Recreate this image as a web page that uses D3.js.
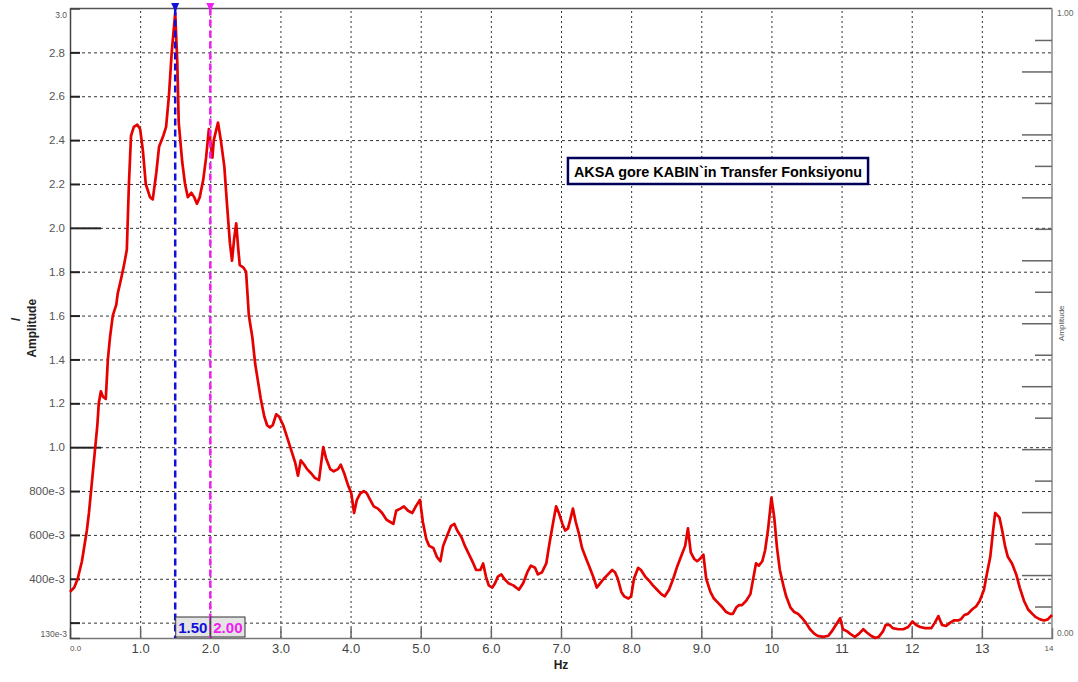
<!DOCTYPE html>
<html>
<head>
<meta charset="utf-8">
<script src="https://cdn.jsdelivr.net/npm/d3@7"></script>
<style>
  html, body { margin: 0; padding: 0; background: #fff; }
  svg { display: block; font-family: Arial, "Liberation Sans", sans-serif; }
</style>
</head>
<body>
<svg id="chart" width="1078" height="682"></svg>
<script>
// Transfer function spectrum (Hz, amplitude)
const freqHz = [
  0.00, 0.06, 0.11, 0.17, 0.21, 0.24, 0.27, 0.30, 0.33, 0.36, 0.39, 0.41, 0.44, 0.47, 0.51, 0.54, 0.57, 0.61, 0.66, 0.68,
  0.73, 0.77, 0.81, 0.84, 0.87, 0.91, 0.96, 1.00, 1.04, 1.08, 1.14, 1.18, 1.23, 1.27, 1.33, 1.37, 1.41, 1.45, 1.50, 1.53,
  1.55, 1.60, 1.64, 1.68, 1.73, 1.77, 1.81, 1.85, 1.90, 1.94, 1.98, 2.03, 2.05, 2.11, 2.15, 2.20, 2.24, 2.28, 2.31, 2.34,
  2.37, 2.40, 2.42, 2.47, 2.51, 2.55, 2.60, 2.64, 2.68, 2.72, 2.77, 2.81, 2.85, 2.89, 2.94, 2.98, 3.04, 3.09, 3.15, 3.21,
  3.25, 3.29, 3.34, 3.38, 3.44, 3.49, 3.55, 3.61, 3.65, 3.71, 3.76, 3.82, 3.86, 3.91, 3.96, 4.01, 4.05, 4.09, 4.14, 4.19,
  4.23, 4.28, 4.33, 4.39, 4.45, 4.51, 4.56, 4.61, 4.65, 4.71, 4.76, 4.82, 4.88, 4.93, 4.99, 5.03, 5.08, 5.12, 5.18, 5.23,
  5.28, 5.32, 5.38, 5.43, 5.48, 5.52, 5.58, 5.63, 5.69, 5.75, 5.79, 5.85, 5.89, 5.93, 5.97, 6.02, 6.06, 6.10, 6.15, 6.19,
  6.25, 6.32, 6.40, 6.46, 6.52, 6.57, 6.63, 6.67, 6.73, 6.79, 6.84, 6.89, 6.93, 6.97, 7.02, 7.06, 7.10, 7.14, 7.17, 7.21,
  7.26, 7.30, 7.36, 7.41, 7.47, 7.51, 7.56, 7.61, 7.67, 7.73, 7.77, 7.81, 7.86, 7.90, 7.96, 8.00, 8.04, 8.10, 8.14, 8.20,
  8.26, 8.31, 8.37, 8.43, 8.48, 8.54, 8.60, 8.65, 8.71, 8.77, 8.81, 8.85, 8.90, 8.94, 8.98, 9.03, 9.07, 9.13, 9.18, 9.24,
  9.30, 9.35, 9.41, 9.45, 9.50, 9.54, 9.58, 9.64, 9.70, 9.74, 9.78, 9.82, 9.87, 9.91, 9.95, 10.00, 10.04, 10.08, 10.12, 10.17,
  10.21, 10.27, 10.32, 10.38, 10.44, 10.49, 10.55, 10.61, 10.66, 10.74, 10.81, 10.86, 10.92, 10.98, 11.02, 11.08, 11.14, 11.19, 11.25, 11.31,
  11.36, 11.42, 11.48, 11.53, 11.59, 11.63, 11.68, 11.73, 11.81, 11.88, 11.95, 12.01, 12.06, 12.12, 12.19, 12.28, 12.33, 12.38, 12.43, 12.49,
  12.55, 12.60, 12.66, 12.70, 12.75, 12.80, 12.86, 12.92, 12.97, 13.03, 13.07, 13.12, 13.16, 13.19, 13.25, 13.29, 13.33, 13.37, 13.43, 13.49,
  13.54, 13.60, 13.66, 13.72, 13.77, 13.83, 13.89, 13.94, 14.00
];
const amplitude = [
  0.34, 0.36, 0.40, 0.48, 0.56, 0.62, 0.70, 0.80, 0.90, 1.00, 1.10, 1.20, 1.255, 1.23, 1.22, 1.40, 1.50, 1.60, 1.65, 1.70,
  1.77, 1.83, 1.90, 2.20, 2.42, 2.46, 2.47, 2.45, 2.35, 2.20, 2.14, 2.13, 2.25, 2.37, 2.42, 2.46, 2.60, 2.80, 2.98, 2.75,
  2.48, 2.30, 2.20, 2.14, 2.16, 2.14, 2.11, 2.14, 2.22, 2.32, 2.45, 2.32, 2.40, 2.48, 2.40, 2.28, 2.10, 1.93, 1.85, 1.95,
  2.02, 1.90, 1.83, 1.82, 1.80, 1.60, 1.50, 1.38, 1.30, 1.22, 1.14, 1.10, 1.09, 1.10, 1.15, 1.14, 1.10, 1.05, 0.99, 0.93,
  0.87, 0.94, 0.92, 0.90, 0.88, 0.86, 0.85, 1.00, 0.95, 0.90, 0.89, 0.90, 0.92, 0.88, 0.83, 0.79, 0.70, 0.76, 0.79, 0.80,
  0.79, 0.76, 0.73, 0.72, 0.70, 0.67, 0.66, 0.65, 0.71, 0.72, 0.73, 0.71, 0.70, 0.73, 0.76, 0.66, 0.58, 0.55, 0.54, 0.50,
  0.48, 0.55, 0.60, 0.64, 0.65, 0.62, 0.59, 0.55, 0.51, 0.47, 0.44, 0.44, 0.47, 0.41, 0.37, 0.36, 0.38, 0.41, 0.42, 0.40,
  0.38, 0.37, 0.35, 0.38, 0.43, 0.46, 0.45, 0.42, 0.43, 0.47, 0.57, 0.66, 0.73, 0.70, 0.65, 0.62, 0.63, 0.68, 0.72, 0.66,
  0.60, 0.54, 0.49, 0.45, 0.40, 0.36, 0.38, 0.40, 0.42, 0.44, 0.43, 0.40, 0.34, 0.32, 0.31, 0.32, 0.40, 0.45, 0.44, 0.41,
  0.39, 0.37, 0.35, 0.33, 0.32, 0.35, 0.40, 0.45, 0.50, 0.55, 0.63, 0.52, 0.49, 0.48, 0.49, 0.51, 0.40, 0.34, 0.31, 0.29,
  0.27, 0.25, 0.24, 0.24, 0.27, 0.28, 0.28, 0.30, 0.33, 0.40, 0.47, 0.46, 0.48, 0.53, 0.62, 0.77, 0.68, 0.54, 0.44, 0.37,
  0.32, 0.27, 0.25, 0.24, 0.22, 0.20, 0.17, 0.15, 0.14, 0.135, 0.14, 0.16, 0.19, 0.22, 0.17, 0.16, 0.145, 0.135, 0.15, 0.17,
  0.155, 0.14, 0.13, 0.135, 0.16, 0.19, 0.19, 0.175, 0.17, 0.17, 0.18, 0.205, 0.19, 0.18, 0.175, 0.175, 0.20, 0.23, 0.19, 0.185,
  0.20, 0.21, 0.21, 0.215, 0.235, 0.24, 0.26, 0.275, 0.30, 0.35, 0.42, 0.50, 0.62, 0.70, 0.68, 0.62, 0.55, 0.50, 0.47, 0.42,
  0.36, 0.30, 0.26, 0.24, 0.225, 0.215, 0.21, 0.215, 0.235
];

// Axis ticks and labels
const xTickValues = [1, 2, 3, 4, 5, 6, 7, 8, 9, 10, 11, 12, 13];
const xTickLabels = ["1.0", "2.0", "3.0", "4.0", "5.0", "6.0", "7.0", "8.0", "9.0", "10", "11", "12", "13"];
const yTickValues = [0.2, 0.4, 0.6, 0.8, 1.0, 1.2, 1.4, 1.6, 1.8, 2.0, 2.2, 2.4, 2.6, 2.8];
const yTickLabels = ["", "400e-3", "600e-3", "800e-3", "1.0", "1.2", "1.4", "1.6", "1.8", "2.0", "2.2", "2.4", "2.6", "2.8"];
const yMajorTicks = [1.0, 2.0];
const rightTickValues = [0.05, 0.1, 0.15, 0.2, 0.25, 0.3, 0.35, 0.4, 0.45, 0.5, 0.55, 0.6, 0.65, 0.7, 0.75, 0.8, 0.85, 0.9, 0.95];

// Cursors
const cursorHz = [1.5, 2.0];
const cursorLabels = ["1.50", "2.00"];
const cursorColors = ["#1010d8", "#f020f0"];

const titleText = "AKSA gore KABIN`in Transfer Fonksiyonu";

const W = 1078, H = 682;
const plot = { left: 70, right: 1052, top: 8.5, bottom: 638 };

const svg = d3.select("#chart");

const x = d3.scaleLinear().domain([0, 14]).range([plot.left, plot.right]);
const y = d3.scaleLinear().domain([0.13, 3.0]).range([plot.bottom, plot.top]);
const yR = d3.scaleLinear().domain([0, 1]).range([plot.bottom, plot.top]);

// Grid
const grid = svg.append("g");
grid.append("g")
  .attr("transform", `translate(0,${plot.bottom})`)
  .call(d3.axisBottom(x).tickValues(xTickValues).tickSize(-(plot.bottom - plot.top)).tickFormat(""))
  .call(g => g.select(".domain").remove())
  .call(g => g.selectAll("line").attr("stroke", "#333").attr("stroke-width", 1).attr("stroke-dasharray", "2,3"));
grid.append("g")
  .attr("transform", `translate(${plot.left},0)`)
  .call(d3.axisLeft(y).tickValues(yTickValues).tickSize(-(plot.right - plot.left)).tickFormat(""))
  .call(g => g.select(".domain").remove())
  .call(g => g.selectAll("line").attr("stroke", "#333").attr("stroke-width", 1).attr("stroke-dasharray", "3,3"));

// Frame
svg.append("line").attr("x1", plot.left).attr("x2", plot.right).attr("y1", plot.top).attr("y2", plot.top)
  .attr("stroke", "#555").attr("stroke-width", 1.5);
svg.append("line").attr("x1", plot.right).attr("x2", plot.right).attr("y1", plot.top).attr("y2", plot.bottom)
  .attr("stroke", "#888").attr("stroke-width", 1.5);

// Bottom axis
const xAxis = svg.append("g")
  .attr("transform", `translate(0,${plot.bottom})`)
  .call(d3.axisBottom(x).tickValues(xTickValues).tickSize(-10).tickPadding(6)
    .tickFormat((d, i) => xTickLabels[i]));
xAxis.select(".domain").attr("stroke", "#777").attr("stroke-width", 1.5);
xAxis.selectAll(".tick line").attr("stroke", "#666").attr("stroke-width", 1.5);
xAxis.selectAll(".tick text").attr("fill", "#444").attr("font-size", 13)
  .attr("font-family", "Arial, 'Liberation Sans', sans-serif").attr("dy", "0.71em");

// Left axis
const yAxis = svg.append("g")
  .attr("transform", `translate(${plot.left},0)`)
  .call(d3.axisLeft(y).tickValues(yTickValues).tickSize(-10).tickPadding(5)
    .tickFormat((d, i) => yTickLabels[i]));
yAxis.select(".domain").attr("stroke", "#444").attr("stroke-width", 1.5);
yAxis.selectAll(".tick line").attr("stroke", "#222").attr("stroke-width", 2)
  .attr("x2", d => yMajorTicks.some(m => Math.abs(m - d) < 1e-9) ? 31 : 10);
yAxis.selectAll(".tick text").attr("fill", "#555").attr("font-size", 11.5)
  .attr("font-family", "Arial, 'Liberation Sans', sans-serif");

// Right axis (0..1)
const rAxis = svg.append("g")
  .attr("transform", `translate(${plot.right},0)`)
  .call(d3.axisLeft(yR).tickValues(rightTickValues).tickSize(0).tickFormat(""));
rAxis.select(".domain").remove();
rAxis.selectAll(".tick line")
  .attr("x2", d => (Math.round(d * 100) % 10 === 0) ? -30 : -17)
  .attr("stroke", "#666").attr("stroke-width", 1.5);

// Axis limit labels
const small = svg.append("g").attr("font-family", "Arial, 'Liberation Sans', sans-serif").attr("fill", "#555");
small.append("text").attr("x", plot.left - 3).attr("y", y(3.0) + 9).attr("text-anchor", "end").attr("font-size", 8.5).text("3.0");
small.append("text").attr("x", plot.left - 3).attr("y", plot.bottom - 1).attr("text-anchor", "end").attr("font-size", 8.5).text("130e-3");
small.append("text").attr("x", plot.left).attr("y", plot.bottom + 13).attr("font-size", 8).text("0.0");
small.append("text").attr("x", plot.right - 3).attr("y", plot.bottom + 13).attr("text-anchor", "middle").attr("font-size", 8).text("14");
small.append("text").attr("x", plot.right + 5).attr("y", yR(1) + 7).attr("font-size", 8.5).attr("fill", "#666").text("1.00");
small.append("text").attr("x", plot.right + 5).attr("y", yR(0) - 2).attr("font-size", 8.5).attr("fill", "#666").text("0.00");
small.append("text").attr("transform", `translate(${plot.right + 12},${(plot.top + plot.bottom) / 2}) rotate(-90)`)
  .attr("text-anchor", "middle").attr("font-size", 8).attr("fill", "#555").text("Amplitude");

// Axis titles
svg.append("text").attr("x", x(7)).attr("y", 669).attr("text-anchor", "middle")
  .attr("font-weight", "bold").attr("font-size", 12).attr("fill", "#222").text("Hz");
svg.append("text").attr("transform", `translate(36,${(plot.top + plot.bottom) / 2 + 5}) rotate(-90)`)
  .attr("text-anchor", "middle").attr("font-weight", "bold").attr("font-size", 12).attr("fill", "#222").text("Amplitude");
svg.append("text").attr("transform", `translate(20,${(plot.top + plot.bottom) / 2 - 4}) rotate(-90)`)
  .attr("text-anchor", "middle").attr("font-weight", "bold").attr("font-size", 12).attr("fill", "#222").text("/");

// Spectrum curve
const line = d3.line().x((d, i) => x(freqHz[i])).y(d => y(d));
svg.append("path").datum(amplitude)
  .attr("d", line)
  .attr("fill", "none").attr("stroke", "#e60000").attr("stroke-width", 2.7)
  .attr("stroke-linejoin", "round");

// Cursors
cursorHz.forEach((hz, i) => {
  const cx = x(hz);
  svg.append("line").attr("x1", cx).attr("x2", cx).attr("y1", plot.top).attr("y2", plot.bottom)
    .attr("stroke", cursorColors[i]).attr("stroke-width", 2.5).attr("stroke-dasharray", "7,4");
  svg.append("path").attr("d", `M${cx - 4},3 L${cx + 4},3 L${cx},12 Z`).attr("fill", cursorColors[i]);
  const g = svg.append("g");
  const tx = g.append("text").attr("x", cx + 3).attr("y", plot.bottom - 5)
    .attr("font-weight", "bold").attr("font-size", 15).attr("fill", cursorColors[i]).text(cursorLabels[i]);
  const bw = tx.node().getComputedTextLength() + 5;
  g.insert("rect", "text").attr("x", cx + 0.5).attr("y", plot.bottom - 21).attr("width", bw).attr("height", 20)
    .attr("fill", "#e4e4e4").attr("stroke", "#333").attr("stroke-width", 1);
});

// Title box
const tg = svg.append("g");
const tt = tg.append("text").attr("x", 718).attr("y", 177).attr("text-anchor", "middle")
  .attr("font-weight", "bold").attr("font-size", 14.4).attr("fill", "#000").text(titleText);
const tb = tt.node().getBBox();
tg.insert("rect", "text").attr("x", tb.x - 6).attr("y", 158).attr("width", tb.width + 12).attr("height", 26)
  .attr("fill", "#fff").attr("stroke", "#00005a").attr("stroke-width", 2.5);
</script>
</body>
</html>
